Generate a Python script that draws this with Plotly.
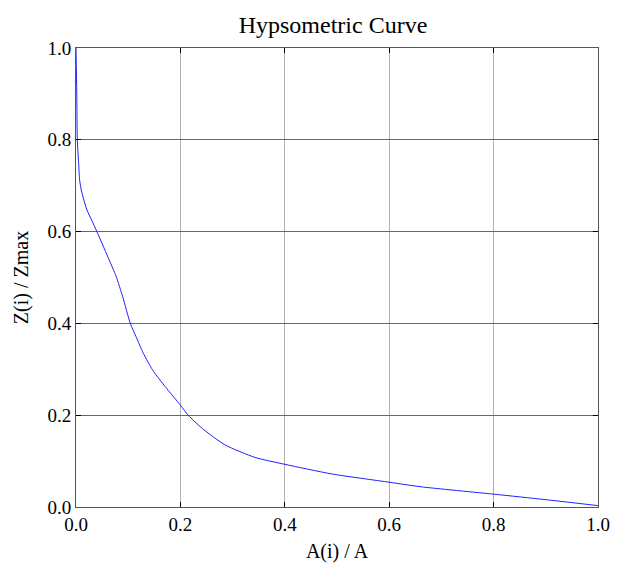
import plotly.graph_objects as go

area_ratio = [0.0, 0.0015, 0.0025, 0.005, 0.007, 0.010, 0.015, 0.021, 0.030, 0.040,
              0.061, 0.077, 0.0895, 0.104, 0.115, 0.129, 0.147, 0.171, 0.200, 0.215,
              0.242, 0.286, 0.343, 0.400, 0.490, 0.600, 0.661, 0.800, 0.900, 1.000]
height_ratio = [1.0, 0.90, 0.80, 0.75, 0.712, 0.691, 0.669, 0.647, 0.625, 0.600,
                0.545, 0.502, 0.458, 0.400, 0.371, 0.335, 0.298, 0.262, 0.222, 0.200,
                0.171, 0.135, 0.108, 0.093, 0.072, 0.054, 0.044, 0.028, 0.016, 0.003]

tick_vals = [0.0, 0.2, 0.4, 0.6, 0.8, 1.0]
tick_text = ["0.0", "0.2", "0.4", "0.6", "0.8", "1.0"]

font_family = "Liberation Serif"

fig = go.Figure()
fig.add_trace(go.Scatter(x=area_ratio, y=height_ratio, mode="lines",
                         line=dict(color="#2020ff", width=1, shape="spline", smoothing=0.6),
                         showlegend=False, hoverinfo="skip"))

fig.update_layout(
    width=622, height=568,
    margin=dict(l=65, r=32, t=40, b=69),
    paper_bgcolor="white", plot_bgcolor="white",
    font=dict(family=font_family, size=19, color="black"),
    title=dict(text="Hypsometric Curve", x=0.5225, xanchor="center", y=0.970, yanchor="middle",
               font=dict(family=font_family, size=24, color="black")),
)
fig.update_xaxes(range=[0, 1], tickvals=tick_vals, ticktext=tick_text,
                 ticks="inside", ticklen=5, tickcolor="black", mirror="ticks",
                 showline=True, linecolor="#555555", linewidth=1,
                 showgrid=True, gridcolor="#b0b0b0", gridwidth=1, zeroline=False,
                 title=dict(text="A(i) / A", font=dict(size=20), standoff=10))
fig.update_yaxes(range=[0, 1], tickvals=tick_vals, ticktext=tick_text,
                 ticks="inside", ticklen=5, tickcolor="black", mirror="ticks",
                 showline=True, linecolor="#555555", linewidth=1,
                 showgrid=True, gridcolor="#666666", gridwidth=1, zeroline=False,
                 title=dict(text="Z(i) / Zmax", font=dict(size=20), standoff=13))

fig.write_html("out.html")
